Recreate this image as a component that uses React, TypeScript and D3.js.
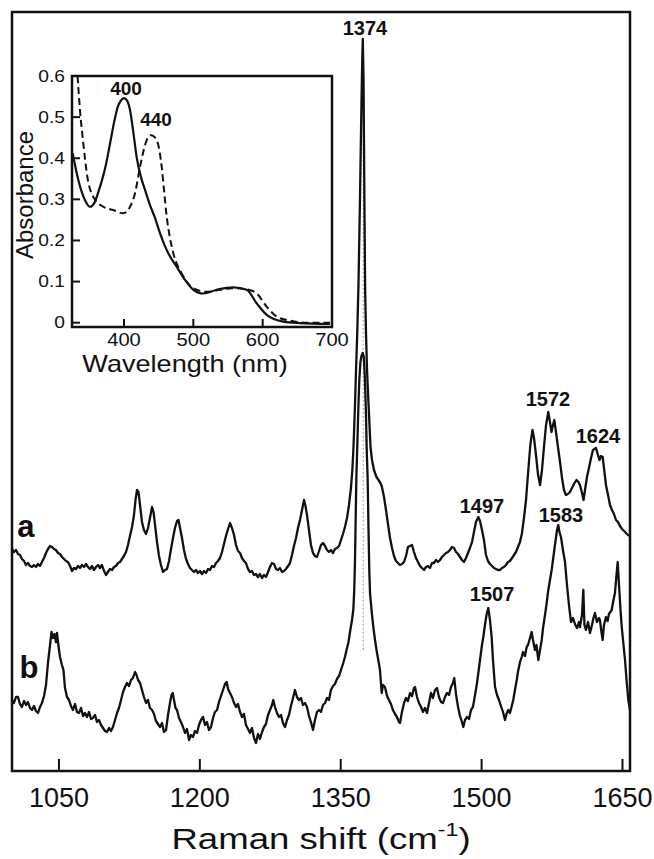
import React from "react";
import * as d3 from "d3";

// Raman spectra: [Raman shift (cm-1), intensity (arbitrary, offset traces)]
const traceA: [number, number][] = [
  [1000.0,222],[1002.1,219],[1004.3,221],[1006.4,217],[1008.5,216],[1010.6,212],[1012.8,210],[1014.9,206],[1017.0,208],[1019.2,205],
  [1021.3,204],[1023.4,206],[1025.5,204],[1027.7,207],[1029.8,205],[1031.9,209],[1034.1,213],[1036.2,218],[1038.3,222],[1040.5,225],
  [1042.6,224],[1044.7,222],[1046.8,221],[1049.0,218],[1051.1,217],[1053.2,214],[1055.4,212],[1057.5,210],[1059.6,209],[1061.8,205],
  [1063.9,200],[1066.0,203],[1068.1,202],[1070.3,205],[1072.4,203],[1074.5,206],[1076.7,204],[1078.8,207],[1080.9,204],[1083.0,202],
  [1085.2,205],[1087.3,201],[1089.4,204],[1091.6,206],[1093.7,203],[1095.8,206],[1098.0,200],[1100.1,196],[1102.2,199],[1104.3,202],
  [1106.5,201],[1108.6,204],[1110.7,205],[1112.9,208],[1115.0,209],[1117.1,212],[1119.2,215],[1121.4,219],[1123.5,226],[1125.6,235],
  [1127.8,244],[1129.9,256],[1131.5,271],[1133.1,281],[1134.7,279],[1136.3,266],[1138.4,249],[1140.5,241],[1142.7,237],[1144.8,243],
  [1146.9,253],[1149.1,264],[1150.7,259],[1152.3,246],[1154.4,229],[1156.5,215],[1158.6,206],[1160.8,199],[1162.9,201],[1165.0,202],
  [1167.2,210],[1169.3,222],[1171.4,233],[1173.5,243],[1175.7,250],[1177.3,251],[1178.9,243],[1181.0,233],[1183.1,221],[1185.3,212],
  [1187.4,207],[1189.5,203],[1191.6,201],[1193.8,199],[1195.9,201],[1198.0,198],[1200.2,200],[1202.3,197],[1204.4,200],[1206.6,198],
  [1208.7,202],[1210.8,201],[1212.9,205],[1215.1,204],[1217.2,208],[1219.3,210],[1221.5,213],[1223.6,219],[1225.7,227],[1227.8,235],
  [1230.0,242],[1232.1,248],[1234.2,243],[1236.4,236],[1238.5,226],[1240.6,220],[1242.8,218],[1244.9,213],[1247.0,210],[1249.1,208],
  [1251.3,202],[1253.4,199],[1255.5,200],[1257.7,196],[1259.8,197],[1261.9,194],[1264.0,197],[1266.2,193],[1268.3,196],[1270.4,194],
  [1272.6,199],[1274.7,204],[1276.8,208],[1279.0,207],[1281.1,202],[1283.2,201],[1285.3,203],[1287.5,199],[1289.6,200],[1291.7,202],
  [1293.9,205],[1296.0,208],[1298.1,216],[1300.2,225],[1302.4,233],[1304.5,243],[1306.6,251],[1308.8,261],[1310.9,271],[1312.5,265],
  [1314.1,256],[1316.2,241],[1318.3,226],[1320.5,218],[1322.6,215],[1324.7,214],[1326.9,220],[1329.0,226],[1331.1,228],[1333.3,225],
  [1335.4,221],[1337.5,219],[1339.6,221],[1341.8,218],[1343.9,222],[1346.0,223],[1348.2,225],[1350.3,231],[1352.4,237],[1354.5,244],
  [1356.7,253],[1358.8,266],[1360.9,283],[1362.5,303],[1363.6,324],[1365.2,366],[1366.3,401],[1367.6,438],[1368.9,486],[1370.5,571],
  [1371.8,651],[1372.9,711],[1373.5,732],[1374.3,691],[1375.2,571],[1376.0,481],[1376.9,438],[1378.0,401],[1379.4,371],[1380.4,351],
  [1381.7,324],[1383.3,311],[1385.4,301],[1388.1,294],[1390.2,291],[1392.3,288],[1393.9,284],[1396.1,274],[1398.2,261],[1400.3,247],
  [1402.5,233],[1404.6,223],[1406.7,215],[1408.8,210],[1411.0,208],[1413.1,206],[1415.2,207],[1417.4,209],[1419.5,215],[1421.6,224],
  [1423.8,225],[1425.9,226],[1428.0,219],[1430.1,213],[1432.3,209],[1434.4,205],[1436.5,203],[1438.7,201],[1440.8,204],[1442.9,205],
  [1445.0,203],[1447.2,208],[1449.3,208],[1451.4,211],[1453.6,209],[1455.7,211],[1457.8,214],[1460.0,216],[1462.1,218],[1464.2,219],
  [1466.3,221],[1468.5,224],[1470.6,223],[1472.7,219],[1474.9,217],[1477.0,214],[1479.1,211],[1481.2,209],[1483.4,213],[1485.5,218],
  [1487.6,223],[1489.8,229],[1491.9,239],[1494.0,249],[1496.5,254],[1498.3,250],[1500.4,241],[1502.5,231],[1504.7,216],[1506.8,210],
  [1508.9,207],[1511.1,205],[1513.2,203],[1515.3,202],[1517.4,201],[1519.6,201],[1521.7,203],[1523.8,204],[1526.0,206],[1528.1,209],
  [1530.2,210],[1532.4,213],[1534.5,216],[1536.6,219],[1538.7,224],[1540.9,229],[1543.0,238],[1545.1,253],[1547.3,271],[1548.9,291],
  [1550.4,309],[1552.0,327],[1554.2,341],[1555.8,333],[1557.9,316],[1560.0,297],[1562.2,286],[1564.3,301],[1566.4,324],[1568.6,346],
  [1571.0,359],[1572.8,349],[1574.4,339],[1576.0,346],[1577.4,351],[1579.2,339],[1581.3,324],[1583.5,309],[1585.6,293],[1587.7,281],
  [1589.8,276],[1592.0,277],[1594.1,279],[1596.2,283],[1598.4,287],[1601.0,291],[1603.1,289],[1604.7,286],[1606.9,278],[1608.5,271],
  [1610.1,281],[1612.2,294],[1614.3,303],[1616.5,313],[1618.6,321],[1621.8,323],[1623.9,316],[1625.5,311],[1627.1,315],[1628.9,314],
  [1630.3,303],[1632.4,286],[1634.6,276],[1636.7,266],[1638.8,261],[1640.9,257],[1643.1,251],[1645.2,249],[1647.3,245],[1649.5,242],
  [1651.6,240],[1653.7,238],[1655.9,236],[1658.0,235],
];

const traceB: [number, number][] = [
  [1000.0,71],[1002.1,68],[1004.3,74],[1006.4,74],[1008.5,67],[1010.6,64],[1012.8,70],[1014.9,66],[1017.0,69],[1019.2,63],
  [1021.3,61],[1023.4,65],[1025.5,60],[1027.7,58],[1029.8,64],[1031.9,68],[1034.1,75],[1036.2,86],[1038.3,108],[1040.5,126],
  [1042.1,139],[1043.7,133],[1045.2,137],[1046.8,129],[1047.9,138],[1049.5,125],[1051.1,114],[1053.2,106],[1054.8,101],[1056.4,83],
  [1058.6,74],[1060.7,71],[1062.8,65],[1064.9,61],[1067.1,67],[1069.2,59],[1071.3,58],[1073.5,63],[1075.6,55],[1077.7,58],
  [1079.9,54],[1082.0,59],[1084.1,52],[1086.2,53],[1088.4,56],[1090.5,49],[1092.6,51],[1094.8,46],[1096.9,43],[1099.0,40],
  [1101.1,39],[1103.3,43],[1105.4,40],[1107.5,44],[1109.7,51],[1111.8,58],[1113.9,63],[1116.1,71],[1118.2,79],[1120.3,84],
  [1122.4,88],[1124.6,85],[1126.7,91],[1128.8,93],[1131.0,99],[1132.6,96],[1134.2,91],[1136.3,88],[1138.4,81],[1140.5,74],
  [1142.7,68],[1144.8,71],[1146.9,63],[1149.1,61],[1151.2,57],[1153.3,50],[1155.4,47],[1157.6,44],[1159.7,48],[1161.8,39],
  [1164.0,41],[1166.1,56],[1168.2,68],[1169.8,76],[1171.1,78],[1172.5,71],[1174.1,63],[1175.7,61],[1177.8,53],[1179.9,49],
  [1182.1,44],[1184.2,38],[1186.3,42],[1188.5,31],[1190.6,36],[1192.7,34],[1194.8,40],[1197.0,38],[1199.1,46],[1201.2,51],
  [1203.4,54],[1205.5,46],[1207.6,49],[1209.7,41],[1211.9,44],[1214.0,53],[1216.1,59],[1218.3,61],[1220.4,69],[1222.5,75],
  [1224.7,81],[1226.8,87],[1228.6,89],[1230.0,82],[1232.1,78],[1234.2,74],[1236.4,68],[1238.5,64],[1240.6,67],[1242.8,59],
  [1244.9,54],[1247.0,57],[1249.1,46],[1251.3,42],[1253.4,38],[1255.5,43],[1257.7,33],[1259.8,28],[1261.9,37],[1264.0,32],
  [1266.2,39],[1268.3,44],[1270.4,47],[1272.6,56],[1274.7,61],[1276.8,66],[1278.2,71],[1280.0,64],[1282.1,58],[1284.3,54],
  [1286.4,56],[1288.5,48],[1290.7,44],[1292.8,51],[1294.9,56],[1297.0,65],[1299.2,73],[1301.3,81],[1303.4,74],[1305.6,71],
  [1307.7,73],[1309.8,66],[1312.0,68],[1314.1,64],[1316.2,55],[1318.3,49],[1320.5,41],[1322.6,51],[1324.7,59],[1326.9,61],
  [1329.0,59],[1331.1,66],[1333.3,68],[1335.4,73],[1337.5,71],[1339.6,81],[1341.8,85],[1343.9,87],[1346.0,92],[1348.2,95],
  [1350.3,101],[1352.7,108],[1354.5,114],[1356.7,123],[1358.1,128],[1359.9,139],[1362.0,151],[1363.4,161],[1364.4,181],[1365.2,211],
  [1366.6,291],[1367.6,324],[1368.7,361],[1369.8,391],[1371.0,409],[1372.1,415],[1373.4,418],[1374.6,414],[1375.8,391],[1376.9,356],
  [1377.6,324],[1378.7,291],[1379.6,241],[1380.4,201],[1381.2,178],[1382.8,161],[1384.7,144],[1386.5,131],[1388.1,121],[1390.0,111],
  [1391.8,101],[1393.6,78],[1395.0,86],[1397.1,84],[1399.3,75],[1401.4,71],[1403.5,67],[1405.6,61],[1407.8,57],[1409.9,54],
  [1412.0,49],[1413.1,48],[1415.2,59],[1417.4,68],[1419.5,73],[1421.6,70],[1423.8,78],[1425.9,75],[1428.0,83],[1429.1,84],
  [1431.2,74],[1433.3,68],[1435.5,64],[1437.6,59],[1439.7,63],[1441.9,58],[1444.0,68],[1446.1,78],[1448.2,73],[1450.4,81],
  [1452.5,83],[1454.6,74],[1456.8,69],[1458.9,68],[1461.0,74],[1463.1,78],[1465.3,76],[1467.4,84],[1469.5,88],[1470.9,93],
  [1472.7,77],[1474.9,64],[1477.0,55],[1479.1,49],[1480.5,44],[1482.3,51],[1484.4,54],[1486.6,52],[1488.7,61],[1490.8,64],
  [1493.0,76],[1495.1,88],[1496.5,98],[1498.3,111],[1500.4,126],[1501.8,134],[1503.6,146],[1505.2,156],[1507.1,163],[1508.9,151],
  [1510.7,134],[1512.1,111],[1514.3,84],[1516.4,76],[1518.5,71],[1520.6,65],[1522.8,59],[1524.9,51],[1526.5,57],[1528.4,61],
  [1530.2,58],[1532.4,66],[1533.7,71],[1535.5,81],[1537.4,91],[1538.7,99],[1540.9,109],[1542.7,114],[1544.1,119],[1546.2,115],
  [1548.0,124],[1549.4,126],[1551.5,133],[1553.3,139],[1554.7,131],[1556.8,121],[1558.4,126],[1560.4,111],[1562.2,121],[1564.0,131],
  [1565.4,143],[1567.5,156],[1569.3,168],[1570.7,179],[1572.8,191],[1574.6,201],[1576.0,211],[1578.1,226],[1580.3,241],[1581.6,246],
  [1582.9,239],[1584.5,234],[1586.6,221],[1588.8,209],[1590.9,186],[1593.0,166],[1595.2,149],[1597.3,153],[1599.4,147],[1601.6,143],
  [1603.7,149],[1604.7,144],[1606.9,156],[1608.3,181],[1609.5,146],[1611.1,141],[1613.3,149],[1615.4,138],[1617.5,146],[1619.1,153],
  [1620.7,158],[1622.8,149],[1625.0,153],[1626.0,151],[1627.6,139],[1628.9,131],[1630.3,146],[1632.4,154],[1634.2,150],[1635.6,157],
  [1638.5,161],[1640.4,171],[1642.0,178],[1643.6,196],[1644.9,209],[1646.3,186],[1647.9,161],[1649.2,144],[1651.1,126],[1652.7,111],
  [1654.3,91],[1656.2,71],[1658.0,61],
];

const ramanTicks = [1050, 1200, 1350, 1500, 1650];
const peakLabels = [
  { text: "1374", shift: 1375.8, level: 736 },
  { text: "1572", shift: 1570.7, level: 365 },
  { text: "1624", shift: 1623.9, level: 328 },
  { text: "1497", shift: 1500.4, level: 258 },
  { text: "1583", shift: 1584.5, level: 249 },
  { text: "1507", shift: 1511.1, level: 170 },
];
const traceLabels = [
  { text: "a", shift: 1014.9, level: 234 },
  { text: "b", shift: 1018.1, level: 93 },
];
const markerShift = 1374;
const markerRange = [120, 731];

// Inset: UV-vis absorbance [wavelength nm, absorbance]
const uvSolid: [number, number][] = [
  [326.0,0.412],[334.1,0.347],[343.8,0.298],[351.0,0.282],[357.5,0.292],[363.0,0.318],[368.0,0.345],[374.0,0.385],
  [380.0,0.437],[386.0,0.490],[391.0,0.525],[395.5,0.540],[400.0,0.546],[404.8,0.539],[408.7,0.517],[413.0,0.469],
  [418.3,0.402],[424.5,0.354],[430.3,0.323],[437.5,0.286],[444.7,0.255],[451.9,0.218],[463.5,0.170],[476.0,0.136],
  [488.0,0.104],[500.0,0.080],[514.4,0.071],[533.7,0.080],[557.6,0.086],[577.0,0.080],[591.4,0.047],[605.8,0.019],
  [629.8,0.0025],[653.8,-0.001],[697.0,-0.003],
];
const uvDashed: [number, number][] = [
  [333.0,0.600],[336.5,0.517],[341.3,0.436],[347.1,0.355],[355.7,0.306],[370.1,0.282],[384.6,0.274],[399.0,0.266],
  [408.7,0.282],[415.9,0.315],[423.1,0.379],[432.8,0.444],[438.5,0.456],[442.3,0.454],[446.2,0.447],[449.5,0.432],
  [454.4,0.379],[457.7,0.323],[461.6,0.258],[466.3,0.206],[471.1,0.169],[483.2,0.120],[500.0,0.084],[519.3,0.075],
  [538.5,0.080],[557.6,0.084],[577.0,0.081],[591.4,0.071],[605.8,0.039],[620.2,0.015],[639.4,0.005],[663.5,0.0],
  [697.1,0.0],
];
const uvXTicks = [400, 500, 600];
const uvXLabels = [400, 500, 600, 700];
const uvYTicks = [0, 0.1, 0.2, 0.3, 0.4, 0.5, 0.6];
const uvPeakLabels = [
  { text: "400", wl: 402.9, abs: 0.554 },
  { text: "440", wl: 446.2, abs: 0.478 },
];

const W = 654;
const H = 859;
const FONT = "'Liberation Sans', Arial, Helvetica, sans-serif";

export default function App() {
  const x = d3.scaleLinear().domain([1000, 1658]).range([12, 630]);
  const y = d3.scaleLinear().domain([0, 759]).range([771, 12]);
  const ix = d3.scaleLinear().domain([325, 700]).range([72, 332]);
  const iy = d3.scaleLinear().domain([-0.0105, 0.6]).range([327, 76]);

  const line = d3.line<[number, number]>().x((d) => x(d[0])).y((d) => y(d[1]));
  const iline = d3
    .line<[number, number]>()
    .x((d) => ix(d[0]))
    .y((d) => iy(d[1]))
    .curve(d3.curveMonotoneX);

  return (
    <svg
      width={W}
      height={H}
      viewBox={`0 0 ${W} ${H}`}
      style={{ position: "absolute", left: 0, top: 0, background: "#fff" }}
      fontFamily={FONT}
    >
      <rect x={0} y={0} width={W} height={H} fill="#fff" />
      {/* dotted marker */}
      <line
        x1={x(markerShift)}
        x2={x(markerShift)}
        y1={y(markerRange[1])}
        y2={y(markerRange[0])}
        stroke="#888"
        strokeWidth={1}
        strokeDasharray="1.5,2.5"
      />
      <path d={line(traceA) || ""} fill="none" stroke="#111" strokeWidth={2.3} strokeLinejoin="round" />
      <path d={line(traceB) || ""} fill="none" stroke="#111" strokeWidth={2.3} strokeLinejoin="round" />

      {/* main frame */}
      <rect x={12} y={12} width={618} height={759} fill="none" stroke="#111" strokeWidth={2.5} />
      {ramanTicks.map((t) => (
        <g key={t}>
          <line x1={x(t)} x2={x(t)} y1={771} y2={759} stroke="#111" strokeWidth={2} />
          <text x={x(t)} y={807} textAnchor="middle" fontSize={27} fill="#111">
            {t}
          </text>
        </g>
      ))}
      <g transform="translate(321,849) scale(1.22,1)">
        <text textAnchor="middle" fontSize={30} fill="#111">
          Raman shift (cm
          <tspan fontSize={19} dy={-13}>
            -1
          </tspan>
          <tspan dy={13}>)</tspan>
        </text>
      </g>

      {peakLabels.map((p) => (
        <text
          key={p.text}
          x={x(p.shift)}
          y={y(p.level)}
          textAnchor="middle"
          fontSize={20}
          fontWeight="bold"
          fill="#111"
        >
          {p.text}
        </text>
      ))}
      {traceLabels.map((p) => (
        <text
          key={p.text}
          x={x(p.shift)}
          y={y(p.level)}
          textAnchor="middle"
          fontSize={31}
          fontWeight="bold"
          fill="#111"
        >
          {p.text}
        </text>
      ))}

      {/* inset */}
      <defs>
        <clipPath id="insetClip">
          <rect x={72} y={76} width={260} height={251} />
        </clipPath>
      </defs>
      <rect x={72} y={76} width={260} height={251} fill="#fff" />
      <g clipPath="url(#insetClip)">
        <path d={iline(uvDashed) || ""} fill="none" stroke="#111" strokeWidth={2} strokeDasharray="7,4" />
        <path d={iline(uvSolid) || ""} fill="none" stroke="#111" strokeWidth={2.2} />
      </g>
      <rect x={72} y={76} width={260} height={251} fill="none" stroke="#111" strokeWidth={2.5} />
      {uvXTicks.map((t) => (
        <line key={t} x1={ix(t)} x2={ix(t)} y1={327} y2={319} stroke="#111" strokeWidth={2} />
      ))}
      {uvYTicks.map((t) => (
        <line key={t} x1={72} x2={80} y1={iy(t)} y2={iy(t)} stroke="#111" strokeWidth={2} />
      ))}
      {uvXLabels.map((t) => (
        <g key={t} transform={`translate(${ix(t)},346) scale(1.12,1)`}>
          <text textAnchor="middle" fontSize={18} fill="#111">
            {t}
          </text>
        </g>
      ))}
      {uvYTicks.map((t) => (
        <g key={t} transform={`translate(65,${iy(t) + 5.5}) scale(1.2,1)`}>
          <text textAnchor="end" fontSize={16} fill="#111">
            {t === 0 ? "0" : t.toFixed(1)}
          </text>
        </g>
      ))}
      <g transform="translate(185,372) scale(1.13,1)">
        <text textAnchor="middle" fontSize={24} fill="#111">
          Wavelength (nm)
        </text>
      </g>
      <text
        transform="translate(33,195) rotate(-90)"
        textAnchor="middle"
        fontSize={24}
        fill="#111"
      >
        Absorbance
      </text>
      {uvPeakLabels.map((p) => (
        <text
          key={p.text}
          x={ix(p.wl)}
          y={iy(p.abs)}
          textAnchor="middle"
          fontSize={19}
          fontWeight="bold"
          fill="#111"
        >
          {p.text}
        </text>
      ))}
    </svg>
  );
}
